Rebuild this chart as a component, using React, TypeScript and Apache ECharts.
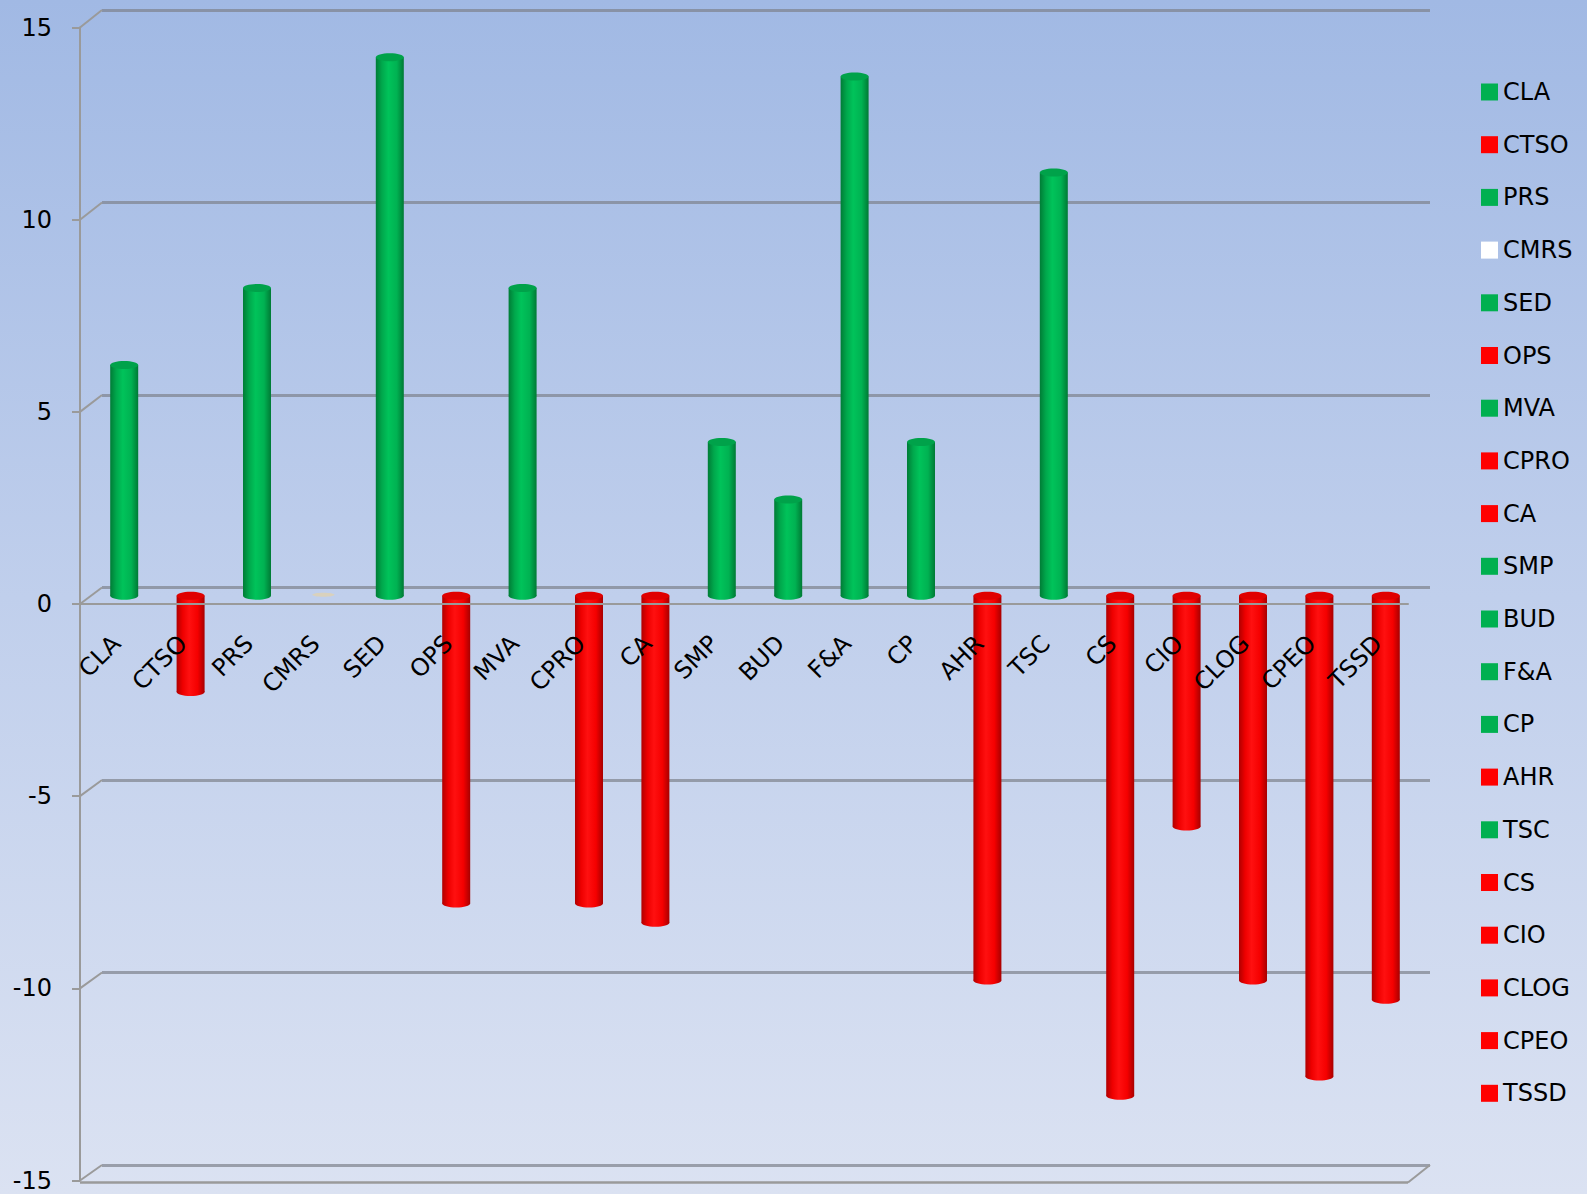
import { useEffect, useRef } from "react";
import * as echarts from "echarts";

// Departments and their net change
const categories = [
  "CLA", "CTSO", "PRS", "CMRS", "SED", "OPS", "MVA", "CPRO", "CA", "SMP",
  "BUD", "F&A", "CP", "AHR", "TSC", "CS", "CIO", "CLOG", "CPEO", "TSSD",
];
const values = [
  6, -2.5, 8, 0, 14, -8, 8, -8, -8.5, 4,
  2.5, 13.5, 4, -10, 11, -13, -6, -10, -12.5, -10.5,
];
const yTicks = [-15, -10, -5, 0, 5, 10, 15];

const FONT = "DejaVu Sans";
const GRID_GRAY = "rgba(125,130,140,0.7)";
const AXIS_GRAY = "#9a9a9a";

const GREEN = {
  legend: "#00B050",
  body: [
    { offset: 0, color: "#007c36" },
    { offset: 0.22, color: "#00a84c" },
    { offset: 0.45, color: "#00c35a" },
    { offset: 0.75, color: "#00b252" },
    { offset: 1, color: "#007a35" },
  ],
  cap: "#00a24a",
};
const RED = {
  legend: "#FF0000",
  body: [
    { offset: 0, color: "#b00000" },
    { offset: 0.22, color: "#ee0000" },
    { offset: 0.45, color: "#ff1010" },
    { offset: 0.75, color: "#f50000" },
    { offset: 1, color: "#a80000" },
  ],
  cap: "#e00000",
};

const colorFor = (v: number) => (v > 0 ? GREEN.legend : v < 0 ? RED.legend : "#FFFFFF");

// Cylinder-shaped column drawn from the value scale of the bar grid
const renderCylinder = (_params: any, api: any) => {
  const idx = api.value(0);
  const v = api.value(1);
  const top = api.coord([idx, v]);
  const base = api.coord([idx, 0]);
  const w = 28;
  const cx = base[0];
  if (v === 0) {
    return {
      type: "ellipse",
      shape: { cx, cy: base[1] - 1, rx: 11, ry: 2 },
      style: { fill: "#d9d1bd" },
    };
  }
  const pal = v > 0 ? GREEN : RED;
  const yTop = Math.min(top[1], base[1]);
  const yBot = Math.max(top[1], base[1]);
  const ry = 4;
  const body = new echarts.graphic.LinearGradient(0, 0, 1, 0, pal.body);
  return {
    type: "group",
    children: [
      {
        type: "rect",
        shape: { x: cx - w / 2, y: yTop, width: w, height: yBot - yTop },
        style: { fill: body },
      },
      {
        type: "ellipse",
        shape: { cx, cy: yBot, rx: w / 2, ry },
        style: { fill: body },
      },
      {
        type: "ellipse",
        shape: { cx, cy: yTop, rx: w / 2, ry },
        style: { fill: pal.cap },
      },
    ],
  };
};

const BAR_LEFT = 91;
const BAR_TOP = 18.75;
const BAR_W = 1328;
const BAR_H = 1154;

const buildOption = () => ({
  animation: false,
  backgroundColor: "transparent",
  textStyle: { fontFamily: FONT },
  legend: {
    orient: "vertical",
    left: 1476,
    top: 75,
    itemWidth: 17,
    itemHeight: 17,
    itemGap: 28.7,
    icon: "rect",
    data: categories,
    textStyle: { fontFamily: FONT, fontSize: 24, color: "#000" },
    selectedMode: false,
  },
  grid: [
    // front plane: value axis with labels
    { left: 80, top: 27.5, width: 1328, height: 1153, outerBoundsMode: "none", containLabel: false },
    // back wall: gridlines
    { left: 102, top: 10, width: 1328, height: 1155, outerBoundsMode: "none", containLabel: false },
    // mid depth: the columns
    { left: BAR_LEFT, top: BAR_TOP, width: BAR_W, height: BAR_H, outerBoundsMode: "none", containLabel: false },
    // upper half of the mid depth: its lower edge is the zero level, carrying the category labels
    { left: BAR_LEFT, top: BAR_TOP, width: BAR_W, height: BAR_H / 2, outerBoundsMode: "none", containLabel: false },
  ],
  xAxis: [
    {
      gridIndex: 0,
      type: "value",
      min: 0,
      max: 1,
      z: 5,
      axisLine: { show: true, onZero: true, lineStyle: { color: AXIS_GRAY, width: 2 } },
      axisTick: { show: false },
      axisLabel: { show: false },
      splitLine: { show: false },
    },
    { gridIndex: 1, type: "value", min: 0, max: 1, show: false },
    {
      gridIndex: 2,
      type: "category",
      data: categories,
      axisLine: { show: false },
      axisTick: { show: false },
      axisLabel: { show: false },
      splitLine: { show: false },
    },
    {
      gridIndex: 3,
      type: "category",
      data: categories,
      position: "bottom",
      z: 10,
      axisLine: { show: false, onZero: false },
      axisTick: { show: false },
      splitLine: { show: false },
      axisLabel: {
        rotate: 45,
        interval: 0,
        margin: 36,
        padding: [0, 11, 0, 0],
        fontFamily: FONT,
        fontSize: 24,
        color: "#000",
      },
    },
  ],
  yAxis: [
    {
      gridIndex: 0,
      type: "value",
      min: -15,
      max: 15,
      interval: 5,
      axisLine: { show: true, lineStyle: { color: AXIS_GRAY, width: 2 } },
      axisTick: { show: true, length: 8, lineStyle: { color: AXIS_GRAY, width: 2 } },
      axisLabel: { margin: 28, fontFamily: FONT, fontSize: 24, color: "#000" },
      splitLine: { show: false },
    },
    {
      gridIndex: 1,
      type: "value",
      min: -15,
      max: 15,
      interval: 5,
      axisLine: { show: false },
      axisTick: { show: false },
      axisLabel: { show: false },
      splitLine: { show: true, lineStyle: { color: GRID_GRAY, width: 3 } },
    },
    {
      gridIndex: 2,
      type: "value",
      min: -15,
      max: 15,
      interval: 5,
      axisLine: { show: false },
      axisTick: { show: false },
      axisLabel: { show: false },
      splitLine: { show: false },
    },
    {
      gridIndex: 3,
      type: "value",
      min: 0,
      max: 15,
      interval: 5,
      show: false,
    },
  ],
  series: categories.map((name, i) => ({
    name,
    type: "custom",
    xAxisIndex: 2,
    yAxisIndex: 2,
    itemStyle: { color: colorFor(values[i]) },
    renderItem: renderCylinder,
    data: [[i, values[i]]],
  })),
});

export default function App() {
  const ref = useRef<HTMLDivElement>(null);

  useEffect(() => {
    if (!ref.current) return;
    const chart = echarts.init(ref.current, null, { renderer: "svg" });
    chart.setOption(buildOption());

    // Floor/wall edges joining the front axis to the back wall
    const yf = (t: number) => chart.convertToPixel({ yAxisIndex: 0 }, t) as number;
    const yb = (t: number) => chart.convertToPixel({ yAxisIndex: 1 }, t) as number;
    const xf0 = chart.convertToPixel({ xAxisIndex: 0 }, 0) as number;
    const xf1 = chart.convertToPixel({ xAxisIndex: 0 }, 1) as number;
    const xb0 = chart.convertToPixel({ xAxisIndex: 1 }, 0) as number;
    const xb1 = chart.convertToPixel({ xAxisIndex: 1 }, 1) as number;
    const low = yTicks[0];

    const edges: any[] = yTicks.map((t) => ({
      type: "line",
      shape: { x1: xf0, y1: yf(t), x2: xb0, y2: yb(t) },
      style: { stroke: AXIS_GRAY, lineWidth: 2 },
    }));
    edges.push({
      type: "line",
      shape: { x1: xf0, y1: yf(low) + 2, x2: xf1, y2: yf(low) + 2 },
      style: { stroke: AXIS_GRAY, lineWidth: 2.5 },
    });
    edges.push({
      type: "line",
      shape: { x1: xf1, y1: yf(low) + 2, x2: xb1, y2: yb(low) },
      style: { stroke: AXIS_GRAY, lineWidth: 2 },
    });
    chart.setOption({ graphic: edges });

    return () => chart.dispose();
  }, []);

  return (
    <div
      ref={ref}
      style={{
        position: "fixed",
        left: 0,
        top: 0,
        width: 1587,
        height: 1194,
        background: "linear-gradient(180deg, #a1b9e4 0%, #c0cfec 50%, #dbe2f2 100%)",
      }}
    />
  );
}
